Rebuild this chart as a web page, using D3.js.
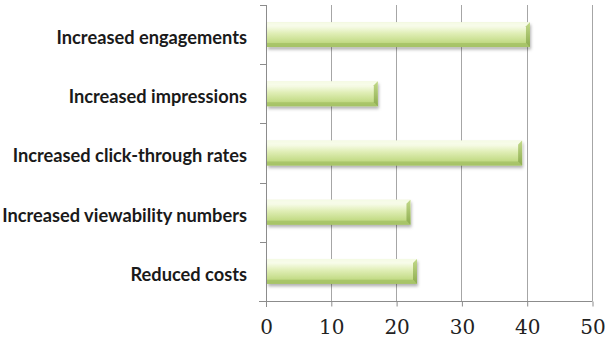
<!DOCTYPE html>
<html>
<head>
<meta charset="utf-8">
<script src="https://cdn.jsdelivr.net/npm/d3@7/dist/d3.min.js"></script>
<style>
  html, body { margin: 0; padding: 0; background: #ffffff; }
  svg { display: block; }
</style>
</head>
<body>
<svg id="chart" width="605" height="345"></svg>
<script>
// Categories listed top to bottom, with their values
const categories = [
  "Increased engagements",
  "Increased impressions",
  "Increased click-through rates",
  "Increased viewability numbers",
  "Reduced costs"
];
const values = [40.5, 17.2, 39.3, 22.2, 23.2];
const xTicks = [0, 10, 20, 30, 40, 50];

const plot = { left: 265.5, right: 592, top: 5, bottom: 301 };

const svg = d3.select("#chart");

const x = d3.scaleLinear().domain([0, 50]).range([plot.left, plot.right]);
const y = d3.scaleBand().domain(categories).range([plot.top, plot.bottom]).paddingInner(0.58).paddingOuter(0.29);
const band = d3.scaleBand().domain(categories).range([plot.top, plot.bottom]);

const defs = svg.append("defs");
const grad = defs.append("linearGradient").attr("id", "barFill")
  .attr("x1", 0).attr("y1", 0).attr("x2", 0).attr("y2", 1);
[["0%", "#eaf4cc"], ["18%", "#f6fbe6"], ["45%", "#e0eeb6"], ["80%", "#c4dc88"], ["100%", "#a7c56a"]]
  .forEach(([o, c]) => grad.append("stop").attr("offset", o).attr("stop-color", c));
const endGrad = defs.append("linearGradient").attr("id", "endFill")
  .attr("x1", 0).attr("y1", 0).attr("x2", 0).attr("y2", 1);
[["0%", "#c2d98a"], ["100%", "#8dac4f"]]
  .forEach(([o, c]) => endGrad.append("stop").attr("offset", o).attr("stop-color", c));
const shadow = defs.append("filter").attr("id", "shadow")
  .attr("x", "-5%").attr("y", "-30%").attr("width", "110%").attr("height", "180%");
shadow.append("feDropShadow").attr("dx", 1).attr("dy", 2.5).attr("stdDeviation", 1.8)
  .attr("flood-color", "#000").attr("flood-opacity", 0.3);

// Vertical gridlines
svg.append("g").selectAll("line").data(xTicks.slice(1)).join("line")
  .attr("x1", d => Math.round(x(d)) + 0.5).attr("x2", d => Math.round(x(d)) + 0.5)
  .attr("y1", plot.top).attr("y2", plot.bottom)
  .attr("stroke", "#a6a6a6").attr("stroke-width", 1);

// Bottom axis
const xAxis = svg.append("g").attr("transform", `translate(0.5,${plot.bottom + 0.5})`)
  .call(d3.axisBottom(x).tickValues(xTicks).tickSize(5).tickPadding(13).tickSizeOuter(0));
xAxis.select(".domain").attr("stroke", "#8c8c8c").attr("d", `M${plot.left - 7},0H${plot.right}`);
xAxis.selectAll(".tick line").attr("stroke", "#8c8c8c");
xAxis.selectAll(".tick text")
  .attr("font-family", "'DejaVu Serif', 'Liberation Serif', serif")
  .attr("font-size", 20).attr("fill", "#222");

// Left axis with tick marks at band boundaries
const bounds = categories.map(c => band(c)).concat([plot.bottom]);
const yAxis = svg.append("g");
yAxis.append("line")
  .attr("x1", Math.round(plot.left) + 0.5).attr("x2", Math.round(plot.left) + 0.5)
  .attr("y1", plot.top).attr("y2", plot.bottom + 6)
  .attr("stroke", "#8c8c8c");
yAxis.selectAll("line.tk").data(bounds).join("line").attr("class", "tk")
  .attr("x1", Math.round(plot.left) - 6).attr("x2", Math.round(plot.left))
  .attr("y1", d => Math.round(d) + 0.5).attr("y2", d => Math.round(d) + 0.5)
  .attr("stroke", "#8c8c8c");

// Bars with beveled faces
const bev = 4;
const bars = svg.append("g").selectAll("g").data(categories.map((c, i) => ({ c, v: values[i] }))).join("g");
bars.each(function (d) {
  const g = d3.select(this);
  const x0 = x(0) + 1.5, x1 = x(d.v), y0 = y(d.c), y1 = y(d.c) + y.bandwidth();
  g.append("rect").attr("x", x0).attr("y", y0).attr("width", x1 - x0).attr("height", y1 - y0)
    .attr("fill", "url(#barFill)").attr("filter", "url(#shadow)");
  // top face
  g.append("path").attr("d", `M${x0},${y0}H${x1}L${x1 - bev},${y0 + bev}H${x0}Z`)
    .attr("fill", "#f8fcec").attr("opacity", 0.75);
  // bottom face
  g.append("path").attr("d", `M${x0},${y1}H${x1}L${x1 - bev},${y1 - bev}H${x0}Z`)
    .attr("fill", "#a5c265").attr("opacity", 0.8);
  // right face
  g.append("path").attr("d", `M${x1},${y0}L${x1 - bev},${y0 + bev}V${y1 - bev}L${x1},${y1}Z`)
    .attr("fill", "url(#endFill)");
});

// Category labels
const labels = svg.append("g").selectAll("text").data(categories).join("text")
  .attr("x", 247).attr("y", d => band(d) + band.bandwidth() / 2 + 3)
  .attr("dy", "0.35em").attr("text-anchor", "end")
  .attr("font-family", "Lato, 'Open Sans', sans-serif").attr("font-weight", "bold")
  .attr("font-size", 16).attr("fill", "#1a1a1a")
  .text(d => d);

// Fit the longest label to the available width
const longest = d3.max(labels.nodes(), n => n.getComputedTextLength());
labels.attr("font-size", 16 * 245 / longest);
</script>
</body>
</html>
